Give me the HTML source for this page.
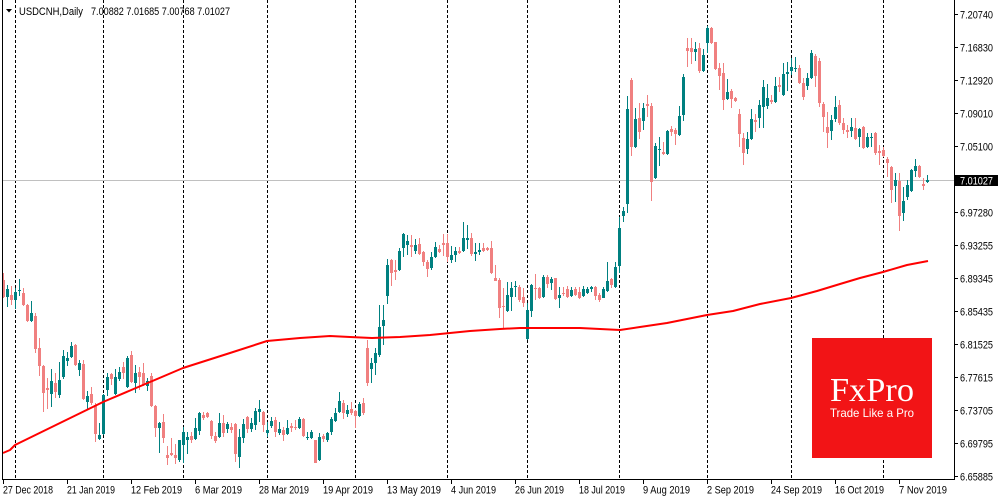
<!DOCTYPE html>
<html><head><meta charset="utf-8">
<style>
html,body{margin:0;padding:0;background:#fff;}
body{width:1000px;height:500px;overflow:hidden;}
svg{display:block;}
text{font-family:"Liberation Sans",Arial,sans-serif;fill:#000;}
</style></head><body>
<svg width="1000" height="500" viewBox="0 0 1000 500" xmlns="http://www.w3.org/2000/svg">
<rect width="1000" height="500" fill="#fff"/>
<g stroke="#000" stroke-width="1" stroke-dasharray="3,2" shape-rendering="crispEdges">
<line x1="15.5" y1="0" x2="15.5" y2="479"/>
<line x1="103.5" y1="0" x2="103.5" y2="479"/>
<line x1="183.5" y1="0" x2="183.5" y2="479"/>
<line x1="267.5" y1="0" x2="267.5" y2="479"/>
<line x1="355.5" y1="0" x2="355.5" y2="479"/>
<line x1="447.5" y1="0" x2="447.5" y2="479"/>
<line x1="527.5" y1="0" x2="527.5" y2="479"/>
<line x1="619.5" y1="0" x2="619.5" y2="479"/>
<line x1="707.5" y1="0" x2="707.5" y2="479"/>
<line x1="791.5" y1="0" x2="791.5" y2="479"/>
<line x1="883.5" y1="0" x2="883.5" y2="479"/>
</g>
<line x1="2" y1="180.5" x2="954" y2="180.5" stroke="#c0c0c0" stroke-width="1" shape-rendering="crispEdges"/>
<g fill="none" shape-rendering="crispEdges">
<path stroke="#008080" stroke-width="1" d="M7.5 285V307M15.5 288V309M19.5 279V296M31.5 301V322M51.5 369V407M59.5 362V398M63.5 350V379M67.5 352V366M71.5 342V358M79.5 360V376M87.5 391V409M99.5 423V440M103.5 394V435M107.5 373V396M115.5 369V395M119.5 367V381M127.5 356V388M135.5 365V393M147.5 378V391M159.5 422V453M179.5 440V462M183.5 427V463M187.5 432V454M195.5 418V440M199.5 412V435M219.5 413V438M227.5 422V433M239.5 429V468M243.5 419V443M251.5 418V432M255.5 408V430M259.5 400V422M267.5 422V437M271.5 417V428M279.5 422V435M287.5 420V435M299.5 417V429M307.5 432V440M311.5 430V439M319.5 433V461M327.5 432V442M331.5 417V435M335.5 408V422M339.5 392V413M347.5 405V417M359.5 402V417M371.5 358V383M375.5 348V375M379.5 305V357M383.5 305V345M387.5 259V304M399.5 248V271M403.5 233V257M407.5 235V255M415.5 239V254M431.5 252V270M435.5 242V258M451.5 246V263M455.5 247V262M463.5 222V252M467.5 225V249M475.5 243V261M479.5 243V255M507.5 282V312M511.5 282V311M515.5 281V297M527.5 303V340M531.5 284V317M543.5 275V298M551.5 277V290M559.5 287V308M571.5 287V297M583.5 286V297M587.5 287V294M591.5 286V292M603.5 287V298M607.5 262V292M615.5 262V288M619.5 217V273M623.5 207V222M627.5 96V213M635.5 108V148M643.5 103V130M655.5 143V179M659.5 137V166M667.5 130V155M679.5 106V136M683.5 74V121M695.5 42V61M703.5 49V72M707.5 26V53M727.5 79V100M747.5 132V154M751.5 109V140M759.5 100V128M763.5 80V128M767.5 84V109M775.5 77V103M783.5 63V96M787.5 62V91M791.5 58V75M795.5 57V72M807.5 73V90M811.5 50V79M831.5 115V140M835.5 96V122M851.5 118V137M859.5 128V147M867.5 133V148M871.5 133V147M895.5 173V202M903.5 187V221M907.5 180V200M911.5 169V192M915.5 159V177M927.5 175V183"/>
<path stroke="#008080" stroke-width="3" d="M7.5 289V297M15.5 292V300M19.5 290V291M31.5 313V321M51.5 381V394M59.5 380V395M63.5 356V377M67.5 358V361M71.5 346V357M79.5 363V370M87.5 396V402M99.5 435V439M103.5 395V434M107.5 377V390M115.5 377V394M119.5 372V379M127.5 358V387M135.5 373V383M147.5 381V386M159.5 423V428M179.5 440V460M183.5 432V445M187.5 437V440M195.5 428V439M199.5 413V431M219.5 423V437M227.5 424V429M239.5 437V457M243.5 424V438M251.5 423V429M255.5 411V425M259.5 409V412M267.5 430V433M271.5 421V426M279.5 429V433M287.5 428V434M299.5 419V428M307.5 437V438M311.5 432V438M319.5 437V460M327.5 433V440M331.5 419V432M335.5 413V421M339.5 401V412M347.5 410V414M359.5 404V416M371.5 363V369M375.5 353V363M379.5 327V355M383.5 320V326M387.5 265V296M399.5 251V270M403.5 234V248M407.5 241V245M415.5 245V251M431.5 257V268M435.5 247V257M451.5 255V260M455.5 251V255M463.5 238V251M467.5 238V240M475.5 252V254M479.5 250V252M507.5 295V311M511.5 288V297M515.5 286V287M527.5 310V339M531.5 285V311M543.5 277V297M551.5 279V283M559.5 295V298M571.5 290V296M583.5 289V296M587.5 289V293M591.5 287V289M603.5 289V298M607.5 281V291M615.5 267V287M619.5 228V266M623.5 211V216M627.5 109V204M635.5 119V147M643.5 108V121M655.5 146V178M659.5 149V150M667.5 131V154M679.5 116V135M683.5 77V115M695.5 49V52M703.5 55V71M707.5 28V43M727.5 92V99M747.5 139V149M751.5 119V139M759.5 105V118M763.5 87V107M767.5 98V106M775.5 86V102M783.5 74V95M787.5 72V74M791.5 67V71M795.5 68V69M807.5 78V86M811.5 53V78M831.5 120V131M835.5 107V119M851.5 127V131M859.5 129V137M867.5 137V147M871.5 137V138M895.5 180V186M903.5 201V213M907.5 185V197M911.5 170V191M915.5 166V171M927.5 180V182"/>
<path stroke="#f08080" stroke-width="1" d="M3.5 273V298M11.5 286V305M23.5 288V306M27.5 304V322M35.5 313V353M39.5 338V376M43.5 365V412M47.5 378V409M55.5 373V398M75.5 344V366M83.5 360V400M91.5 387V405M95.5 403V442M111.5 373V385M123.5 362V379M131.5 351V383M139.5 367V390M143.5 363V386M151.5 373V407M155.5 405V437M163.5 414V443M167.5 446V465M171.5 438V456M175.5 444V464M191.5 432V443M203.5 412V420M207.5 412V418M211.5 420V439M215.5 432V443M223.5 415V437M231.5 423V433M235.5 423V462M247.5 416V433M263.5 411V432M275.5 417V437M283.5 427V441M291.5 423V432M295.5 420V430M303.5 418V437M315.5 440V463M323.5 434V442M343.5 400V419M351.5 402V415M355.5 410V428M363.5 398V415M367.5 340V386M391.5 259V286M395.5 260V280M411.5 235V257M419.5 238V255M423.5 251V266M427.5 260V277M439.5 245V253M443.5 234V256M447.5 234V262M459.5 247V254M471.5 233V256M483.5 243V252M487.5 247V251M491.5 241V274M495.5 265V281M499.5 278V318M503.5 288V328M519.5 285V302M523.5 288V307M535.5 274V300M539.5 287V299M547.5 275V288M555.5 278V300M563.5 287V296M567.5 286V298M575.5 287V296M579.5 287V299M595.5 286V300M599.5 293V302M611.5 278V288M631.5 78V156M639.5 103V139M647.5 95V117M651.5 103V201M663.5 142V155M671.5 126V136M675.5 128V145M687.5 38V67M691.5 38V64M699.5 43V73M711.5 27V44M715.5 42V70M719.5 63V90M723.5 63V110M731.5 89V108M735.5 97V102M739.5 109V147M743.5 133V165M755.5 114V132M771.5 95V104M779.5 77V92M799.5 65V84M803.5 78V100M815.5 54V87M819.5 58V107M823.5 102V132M827.5 112V148M839.5 100V125M843.5 118V134M847.5 125V138M855.5 118V140M863.5 126V149M875.5 132V155M879.5 145V165M883.5 147V157M887.5 157V177M891.5 166V203M899.5 173V231M919.5 165V178M923.5 178V190"/>
<path stroke="#f08080" stroke-width="3" d="M3.5 280V297M11.5 295V300M23.5 293V305M27.5 305V321M35.5 316V349M39.5 348V366M43.5 366V393M47.5 388V390M55.5 383V392M75.5 345V365M83.5 364V399M91.5 394V403M95.5 405V434M111.5 374V379M123.5 367V373M131.5 355V382M139.5 372V377M143.5 373V385M151.5 376V406M155.5 406V428M163.5 422V438M167.5 455V458M171.5 453V455M175.5 455V458M191.5 436V440M203.5 415V418M207.5 413V417M211.5 421V436M215.5 436V441M223.5 423V433M231.5 427V430M235.5 424V454M247.5 417V429M263.5 412V425M275.5 420V432M283.5 430V435M291.5 426V428M295.5 427V428M303.5 419V436M315.5 440V463M323.5 436V439M343.5 403V413M351.5 409V413M355.5 411V416M363.5 403V413M367.5 348V383M391.5 260V273M395.5 270V272M411.5 245V247M419.5 244V254M423.5 252V262M427.5 262V269M439.5 249V252M443.5 243V245M447.5 243V257M459.5 251V253M471.5 238V254M483.5 248V251M487.5 248V250M491.5 248V273M495.5 278V281M499.5 280V308M503.5 306V307M519.5 287V300M523.5 297V303M535.5 288V289M539.5 288V298M547.5 277V284M555.5 278V299M563.5 293V294M567.5 289V297M575.5 289V295M579.5 292V298M595.5 287V296M599.5 295V300M611.5 279V285M631.5 80V147M639.5 118V132M647.5 104V106M651.5 106V182M663.5 152V154M671.5 129V132M675.5 130V134M687.5 48V51M691.5 48V52M699.5 48V71M711.5 28V43M715.5 42V69M719.5 68V76M723.5 73V100M731.5 91V99M735.5 98V101M739.5 114V134M743.5 138V153M755.5 120V122M771.5 100V102M779.5 85V87M799.5 68V83M803.5 83V97M815.5 56V76M819.5 61V103M823.5 104V117M827.5 127V133M839.5 105V123M843.5 123V130M847.5 130V132M855.5 128V139M863.5 127V148M875.5 133V153M879.5 151V153M883.5 150V156M887.5 159V163M891.5 167V190M899.5 181V216M919.5 166V177M923.5 184V186"/>
</g>
<polyline fill="none" stroke="#ff0000" stroke-width="2" stroke-linejoin="round" points="3,453 10,450 15,445 60,423 103,402 150,382 183,368 230,353 267,341 300,338 330,336 350,337 372,338 400,337 430,335 470,331 500,329 520,328 580,328 620,330 640,327 667,323 687,319 707,315 733,311 760,304 791,298 817,291 840,284 860,278 883,272 907,265 928,261"/>

<rect x="812" y="338" width="120" height="120" fill="#f21416"/>
<text x="830" y="401" font-size="34" textLength="84" lengthAdjust="spacingAndGlyphs" style="font-family:'Liberation Serif',serif;fill:#fff;">FxPro</text>
<text x="830" y="417" font-size="12" textLength="84" lengthAdjust="spacingAndGlyphs" style="fill:#fff;">Trade Like a Pro</text>

<g fill="#000" shape-rendering="crispEdges">
<rect x="2" y="0" width="1" height="480"/>
<rect x="954" y="0" width="1" height="480"/>
<rect x="2" y="479" width="953" height="1"/>
</g>
<g stroke="#000" stroke-width="1" shape-rendering="crispEdges">
<line x1="955" y1="14.5" x2="958" y2="14.5"/>
<line x1="955" y1="47.5" x2="958" y2="47.5"/>
<line x1="955" y1="80.5" x2="958" y2="80.5"/>
<line x1="955" y1="113.5" x2="958" y2="113.5"/>
<line x1="955" y1="146.5" x2="958" y2="146.5"/>
<line x1="955" y1="212.5" x2="958" y2="212.5"/>
<line x1="955" y1="245.5" x2="958" y2="245.5"/>
<line x1="955" y1="278.5" x2="958" y2="278.5"/>
<line x1="955" y1="311.5" x2="958" y2="311.5"/>
<line x1="955" y1="344.5" x2="958" y2="344.5"/>
<line x1="955" y1="377.5" x2="958" y2="377.5"/>
<line x1="955" y1="410.5" x2="958" y2="410.5"/>
<line x1="955" y1="443.5" x2="958" y2="443.5"/>
<line x1="955" y1="476.5" x2="958" y2="476.5"/>
</g>
<g font-size="11">
<text x="960" y="18.5" textLength="33" lengthAdjust="spacingAndGlyphs">7.20740</text>
<text x="960" y="51.5" textLength="33" lengthAdjust="spacingAndGlyphs">7.16830</text>
<text x="960" y="84.5" textLength="33" lengthAdjust="spacingAndGlyphs">7.12920</text>
<text x="960" y="117.5" textLength="33" lengthAdjust="spacingAndGlyphs">7.09010</text>
<text x="960" y="150.5" textLength="33" lengthAdjust="spacingAndGlyphs">7.05100</text>
<text x="960" y="216.5" textLength="33" lengthAdjust="spacingAndGlyphs">6.97280</text>
<text x="960" y="249.5" textLength="33" lengthAdjust="spacingAndGlyphs">6.93255</text>
<text x="960" y="282.5" textLength="33" lengthAdjust="spacingAndGlyphs">6.89345</text>
<text x="960" y="315.5" textLength="33" lengthAdjust="spacingAndGlyphs">6.85435</text>
<text x="960" y="348.5" textLength="33" lengthAdjust="spacingAndGlyphs">6.81525</text>
<text x="960" y="381.5" textLength="33" lengthAdjust="spacingAndGlyphs">6.77615</text>
<text x="960" y="414.5" textLength="33" lengthAdjust="spacingAndGlyphs">6.73705</text>
<text x="960" y="447.5" textLength="33" lengthAdjust="spacingAndGlyphs">6.69795</text>
<text x="960" y="480.5" textLength="33" lengthAdjust="spacingAndGlyphs">6.65885</text>
</g>
<rect x="955" y="175" width="43" height="11" fill="#000"/>
<text x="960" y="184.5" font-size="11" textLength="33" lengthAdjust="spacingAndGlyphs" style="fill:#fff;">7.01027</text>

<g stroke="#000" stroke-width="1" shape-rendering="crispEdges">
<line x1="3.5" y1="480" x2="3.5" y2="484"/>
<line x1="67.5" y1="480" x2="67.5" y2="484"/>
<line x1="131.5" y1="480" x2="131.5" y2="484"/>
<line x1="195.5" y1="480" x2="195.5" y2="484"/>
<line x1="259.5" y1="480" x2="259.5" y2="484"/>
<line x1="323.5" y1="480" x2="323.5" y2="484"/>
<line x1="387.5" y1="480" x2="387.5" y2="484"/>
<line x1="451.5" y1="480" x2="451.5" y2="484"/>
<line x1="515.5" y1="480" x2="515.5" y2="484"/>
<line x1="579.5" y1="480" x2="579.5" y2="484"/>
<line x1="643.5" y1="480" x2="643.5" y2="484"/>
<line x1="707.5" y1="480" x2="707.5" y2="484"/>
<line x1="771.5" y1="480" x2="771.5" y2="484"/>
<line x1="835.5" y1="480" x2="835.5" y2="484"/>
<line x1="899.5" y1="480" x2="899.5" y2="484"/>
</g>
<g font-size="11">
<text x="3" y="493.5" textLength="50" lengthAdjust="spacingAndGlyphs">27 Dec 2018</text>
<text x="67" y="493.5" textLength="48" lengthAdjust="spacingAndGlyphs">21 Jan 2019</text>
<text x="131" y="493.5" textLength="51" lengthAdjust="spacingAndGlyphs">12 Feb 2019</text>
<text x="195" y="493.5" textLength="47" lengthAdjust="spacingAndGlyphs">6 Mar 2019</text>
<text x="259" y="493.5" textLength="50" lengthAdjust="spacingAndGlyphs">28 Mar 2019</text>
<text x="323" y="493.5" textLength="50" lengthAdjust="spacingAndGlyphs">19 Apr 2019</text>
<text x="387" y="493.5" textLength="54" lengthAdjust="spacingAndGlyphs">13 May 2019</text>
<text x="451" y="493.5" textLength="45" lengthAdjust="spacingAndGlyphs">4 Jun 2019</text>
<text x="515" y="493.5" textLength="49" lengthAdjust="spacingAndGlyphs">26 Jun 2019</text>
<text x="579" y="493.5" textLength="46" lengthAdjust="spacingAndGlyphs">18 Jul 2019</text>
<text x="643" y="493.5" textLength="47" lengthAdjust="spacingAndGlyphs">9 Aug 2019</text>
<text x="707" y="493.5" textLength="47" lengthAdjust="spacingAndGlyphs">2 Sep 2019</text>
<text x="771" y="493.5" textLength="51" lengthAdjust="spacingAndGlyphs">24 Sep 2019</text>
<text x="835" y="493.5" textLength="49" lengthAdjust="spacingAndGlyphs">16 Oct 2019</text>
<text x="899" y="493.5" textLength="48" lengthAdjust="spacingAndGlyphs">7 Nov 2019</text>
</g>

<polygon points="6,9 12,9 9,12.5" fill="#000"/>
<text x="19" y="15" font-size="11" textLength="64" lengthAdjust="spacingAndGlyphs">USDCNH,Daily</text>
<text x="91" y="15" font-size="11" textLength="139" lengthAdjust="spacingAndGlyphs">7.00882 7.01685 7.00768 7.01027</text>
</svg>
</body></html>
